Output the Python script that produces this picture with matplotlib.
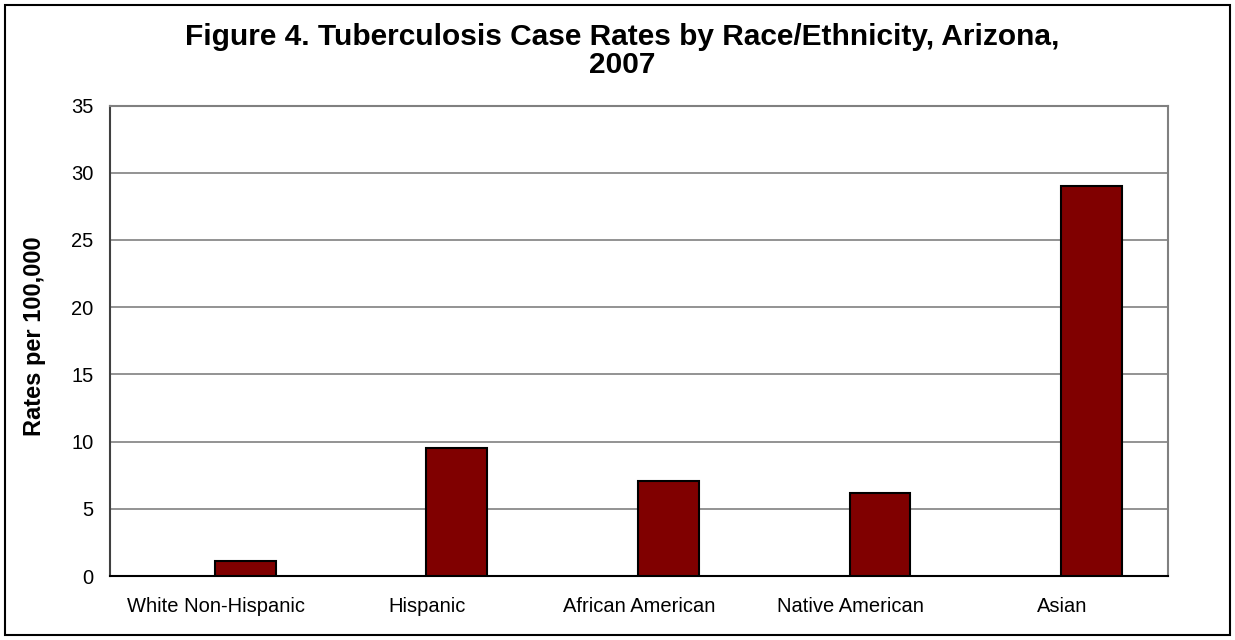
import matplotlib
matplotlib.use("Agg")
import matplotlib.pyplot as plt
from matplotlib.patches import Rectangle
import numpy as np

categories = ["White Non-Hispanic", "Hispanic", "African American", "Native American", "Asian"]
rates = [1.1, 9.5, 7.1, 6.2, 29.0]
y_ticks = [0, 5, 10, 15, 20, 25, 30, 35]
title_lines = ["Figure 4. Tuberculosis Case Rates by Race/Ethnicity, Arizona,", "2007"]
y_label = "Rates per 100,000"

plt.rcParams['font.family'] = ['Liberation Sans', 'DejaVu Sans']

fig = plt.figure(figsize=(12.35, 6.4), dpi=100)
ax = fig.add_axes([110/1235, 1 - 576/640, (1168 - 110)/1235, (576 - 105.5)/640])

x = np.arange(len(categories))
ax.bar(x + 0.139, rates, width=0.288, color="#800000", edgecolor="black", linewidth=1.5, zorder=3)

ax.set_xlim(-0.5, len(categories) - 0.5)
ax.set_ylim(0, 35)
ax.set_yticks(y_ticks)
ax.set_yticklabels([str(v) for v in y_ticks], fontsize=14.5)
ax.set_xticks(x)
ax.set_xticklabels(categories, fontsize=14.5)
ax.tick_params(axis='both', length=0)
ax.tick_params(axis='y', pad=12)
ax.tick_params(axis='x', pad=15)
ax.yaxis.grid(True, color="#808080", linewidth=1.2, zorder=0)
ax.set_axisbelow(True)
for side in ["top", "right"]:
    ax.spines[side].set_color("#808080")
    ax.spines[side].set_linewidth(1.5)
ax.spines["left"].set_color("#404040")
ax.spines["left"].set_linewidth(1.5)
ax.spines["bottom"].set_color("black")
ax.spines["bottom"].set_linewidth(1.5)

fig.text(35/1235, 1 - 336/640, y_label, rotation=90, ha="center", va="center",
         fontsize=17, fontweight="bold")

fig.text(622/1235, 1 - 45/640, title_lines[0], ha="center", va="baseline", fontsize=21.5,
         fontweight="bold")
fig.text(622/1235, 1 - 73/640, title_lines[1], ha="center", va="baseline", fontsize=21.5,
         fontweight="bold")

fig.patches.append(Rectangle((5/1235, 5/640), 1 - 10/1235, 1 - 10/640, transform=fig.transFigure,
                             fill=False, edgecolor="black", linewidth=1.5))

fig.savefig("out.png", dpi=100)
